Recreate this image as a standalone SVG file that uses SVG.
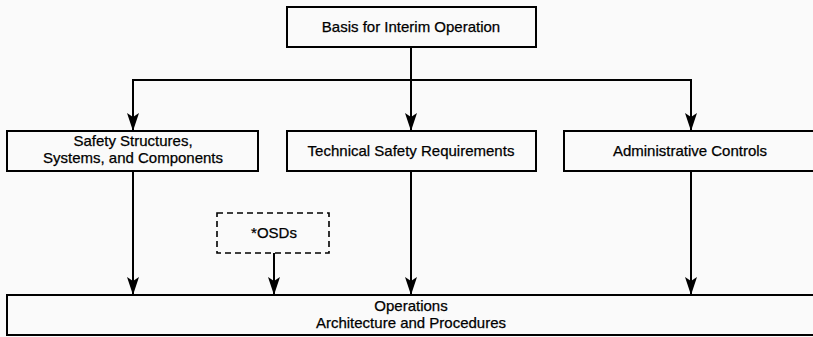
<svg xmlns="http://www.w3.org/2000/svg" width="813" height="337" viewBox="0 0 813 337">
<defs>
<marker id="arr" viewBox="0 0 18 12" refX="18" refY="6" markerWidth="18" markerHeight="12" markerUnits="userSpaceOnUse" orient="auto-start-reverse">
<path d="M0,0 L18,6 L0,12 L4,6 Z" fill="#000"/>
</marker>
</defs>
<style>
.box{fill:#fafafa;stroke:#000;stroke-width:2}
.dash{fill:#fafafa;stroke:#000;stroke-width:1.6;stroke-dasharray:6,4}
.t{font-family:"Liberation Sans",Arial,sans-serif;font-size:15px;fill:#000;stroke:#000;stroke-width:0.25;text-anchor:middle}
.ln{fill:none;stroke:#000;stroke-width:2}
</style>
<rect width="813" height="337" fill="#fafafa"/>
<g id="connectors">
<line class="ln" x1="411" y1="47" x2="411" y2="80"/>
<polyline class="ln" points="133,131 133,80 691,80 691,131" marker-start="url(#arr)" marker-end="url(#arr)"/>
<line class="ln" x1="411" y1="80" x2="411" y2="131" marker-end="url(#arr)"/>
<line class="ln" x1="133" y1="171" x2="133" y2="295" marker-end="url(#arr)"/>
<line class="ln" x1="274" y1="253" x2="274" y2="295" marker-end="url(#arr)"/>
<line class="ln" x1="411" y1="171" x2="411" y2="295" marker-end="url(#arr)"/>
<line class="ln" x1="691" y1="171" x2="691" y2="295" marker-end="url(#arr)"/>
</g>
<g id="basis">
<rect class="box" x="287" y="7" width="249" height="40"/>
<text class="t" x="411" y="32">Basis for Interim Operation</text>
</g>
<g id="ssc">
<rect class="box" x="7" y="131" width="251" height="40"/>
<text class="t" x="133" y="146">Safety Structures,</text>
<text class="t" x="133" y="163">Systems, and Components</text>
</g>
<g id="tsr">
<rect class="box" x="287" y="131" width="249" height="40"/>
<text class="t" x="411" y="156">Technical Safety Requirements</text>
</g>
<g id="admin">
<rect class="box" x="564" y="131" width="250" height="40"/>
<text class="t" x="690" y="156">Administrative Controls</text>
</g>
<g id="osds">
<rect class="dash" x="217" y="213" width="112" height="40"/>
<text class="t" x="274" y="238">*OSDs</text>
</g>
<g id="operations">
<rect class="box" x="7" y="295" width="808" height="40"/>
<text class="t" x="411" y="311">Operations</text>
<text class="t" x="411" y="328">Architecture and Procedures</text>
</g>
</svg>
